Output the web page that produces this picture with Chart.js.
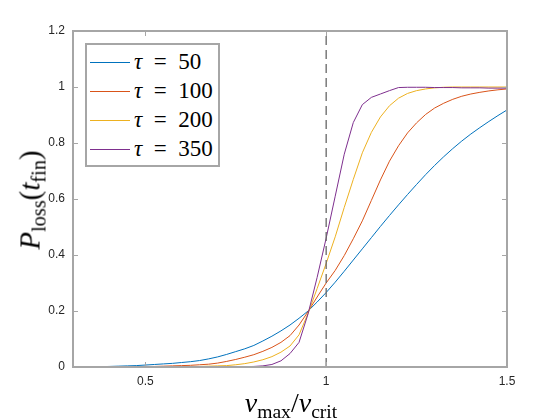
<!DOCTYPE html>
<html>
<head>
<meta charset="utf-8">
<script src="https://cdn.jsdelivr.net/npm/chart.js@4"></script>
<style>
body { margin: 0; background: #fff; }
#box { position: relative; width: 560px; height: 420px; }
#chart { position: absolute; left: 0; top: 0; }
.math { position: absolute; font-family: 'Liberation Serif', 'DejaVu Serif', serif; color: #000; white-space: nowrap; line-height: 1; }
.math sub { font-size: 0.7em; vertical-align: -0.3em; line-height: 0; font-style: normal; }
#ytitle { left: 30px; top: 200px; font-size: 29px; transform: translate(-50%, -50%) rotate(-90deg); }
#xtitle { left: 291px; top: 403px; font-size: 28px; transform: translate(-50%, -50%); }
#legend { position: absolute; left: 85px; top: 43px; width: 131px; height: 120px; border: 2px solid #a6a6a6; background: #fff; }
.row { position: absolute; left: 3px; height: 28px; display: flex; align-items: center; font-family: 'Liberation Serif', 'DejaVu Serif', serif; font-size: 23px; white-space: nowrap; }
.row .ln { display: inline-block; width: 40px; height: 0; border-top: 1px solid; margin-right: 4px; }
</style>
</head>
<body>
<div id="box">
	<canvas id="chart" width="560" height="420"></canvas>
	<div id="legend"></div>
	<div id="ytitle" class="math"><i>P</i><sub>loss</sub>(<i>t</i><sub>fin</sub>)</div>
	<div id="xtitle" class="math"><i>v</i><sub>max</sub>/<i>v</i><sub>crit</sub></div>
</div>
<script>
/*
 */
const xValues = [
	0.3, 0.325, 0.35, 0.375, 0.4, 0.425, 0.45, 0.475,
	0.5, 0.525, 0.55, 0.575, 0.6, 0.625, 0.65, 0.675,
	0.7, 0.725, 0.75, 0.775, 0.8, 0.825, 0.85, 0.875,
	0.9, 0.925, 0.95, 0.975, 1.0, 1.025, 1.05, 1.075,
	1.1, 1.125, 1.15, 1.175, 1.2, 1.225, 1.25, 1.275,
	1.3, 1.325, 1.35, 1.375, 1.4, 1.425, 1.45, 1.475,
	1.5,
];

const tau50 = [
	0.000, 0.000, 0.001, 0.001, 0.002, 0.003, 0.004, 0.005,
	0.007, 0.009, 0.011, 0.013, 0.016, 0.019, 0.023, 0.029,
	0.036, 0.045, 0.055, 0.065, 0.077, 0.093, 0.110, 0.129,
	0.150, 0.174, 0.200, 0.232, 0.266, 0.303, 0.342, 0.382,
	0.422, 0.462, 0.502, 0.541, 0.579, 0.616, 0.652, 0.687,
	0.720, 0.751, 0.780, 0.807, 0.832, 0.855, 0.877, 0.898,
	0.918,
];

const tau100 = [
	0.000, 0.000, 0.000, 0.000, 0.001, 0.001, 0.001, 0.001,
	0.002, 0.002, 0.003, 0.004, 0.005, 0.006, 0.008, 0.010,
	0.014, 0.020, 0.027, 0.035, 0.044, 0.056, 0.070, 0.088,
	0.112, 0.150, 0.198, 0.250, 0.300, 0.345, 0.398, 0.458,
	0.522, 0.595, 0.668, 0.735, 0.790, 0.836, 0.872, 0.902,
	0.925, 0.942, 0.956, 0.967, 0.975, 0.981, 0.986, 0.990,
	0.993,
];

const tau200 = [
	0.000, 0.000, 0.000, 0.000, 0.000, 0.000, 0.000, 0.000,
	0.001, 0.001, 0.001, 0.001, 0.001, 0.002, 0.002, 0.003,
	0.004, 0.005, 0.008, 0.012, 0.018, 0.026, 0.037, 0.053,
	0.075, 0.115, 0.192, 0.280, 0.370, 0.465, 0.570, 0.670,
	0.765, 0.838, 0.893, 0.933, 0.960, 0.977, 0.987, 0.993,
	0.997, 0.999, 1.000, 1.000, 1.000, 1.000, 1.000, 1.000,
	1.000,
];

const tau350 = [
	0.000, 0.000, 0.000, 0.000, 0.000, 0.000, 0.000, 0.000,
	0.000, 0.000, 0.000, 0.000, 0.000, 0.000, 0.000, 0.000,
	0.000, 0.000, 0.000, 0.001, 0.002, 0.004, 0.009, 0.022,
	0.048, 0.088, 0.190, 0.320, 0.460, 0.610, 0.760, 0.873,
	0.937, 0.963, 0.975, 0.987, 0.998, 0.999, 0.999, 0.999,
	0.998, 0.998, 0.998, 0.997, 0.997, 0.997, 0.996, 0.996,
	0.996,
];

const tauLabels = ['50', '100', '200', '350'];
const seriesColors = ['#0072BD', '#D95319', '#EDB120', '#7E2F8E'];

/* The critical ratio, drawn as a dashed vertical line. */
const critX = [1, 1];
const critY = [0, 1.2];

const xTicks = [0.5, 1, 1.5];
const yTicks = [0, 0.2, 0.4, 0.6, 0.8, 1, 1.2];

const axisGray = '#a6a6a6';

/**
 * MATLAB-style box: full frame with short ticks pointing inward on
 * all four sides.
 */
const boxPlugin = {
	id: 'box',
	afterDatasetsDraw(chart) {
		const { ctx, chartArea: a, scales: { x, y } } = chart;
		ctx.save();
		ctx.strokeStyle = axisGray;
		ctx.lineWidth = 2;
		ctx.strokeRect(a.left, a.top, a.right - a.left, a.bottom - a.top);
		ctx.lineWidth = 1;
		ctx.beginPath();
		for (const v of xTicks) {
			const px = Math.round(x.getPixelForValue(v)) + 0.5;
			ctx.moveTo(px, a.bottom);
			ctx.lineTo(px, a.bottom - 5);
			ctx.moveTo(px, a.top);
			ctx.lineTo(px, a.top + 5);
		}
		for (const v of yTicks) {
			const py = Math.round(y.getPixelForValue(v)) + 0.5;
			ctx.moveTo(a.left, py);
			ctx.lineTo(a.left + 5, py);
			ctx.moveTo(a.right, py);
			ctx.lineTo(a.right - 5, py);
		}
		ctx.stroke();
		ctx.restore();
	},
};

function series(values)
{
	return xValues.map((x, i) => ({ x: x, y: values[i] }));
}

const allSeries = [tau50, tau100, tau200, tau350];
const datasets = allSeries.map((vals, i) => ({
	label: '\u03c4 = ' + tauLabels[i],
	data: series(vals),
	borderColor: seriesColors[i],
	borderWidth: 1,
	pointRadius: 0,
	tension: 0,
	order: 4 - i,
}));

datasets.push({
	label: 'crit',
	data: critX.map((x, i) => ({ x: x, y: critY[i] })),
	borderColor: '#666666',
	borderWidth: 1.3,
	borderDash: [9, 5],
	pointRadius: 0,
	order: 0,
});

const tickFont = { family: "'Liberation Sans', Arial, sans-serif", size: 12 };

new Chart(document.getElementById('chart'), {
	type: 'line',
	data: { datasets: datasets },
	options: {
		responsive: false,
		animation: false,
		layout: { padding: { left: 33, right: 53, top: 31, bottom: 23 } },
		plugins: {
			legend: { display: false },
			tooltip: { enabled: false },
		},
		scales: {
			x: {
				type: 'linear',
				min: 0.3,
				max: 1.5,
				afterBuildTicks: (s) => { s.ticks = xTicks.map(v => ({ value: v })); },
				afterFit: (s) => { s.height = 30; },
				grid: { display: false, drawTicks: false },
				border: { display: false },
				ticks: {
					padding: 7,
					color: '#262626',
					font: tickFont,
					maxRotation: 0,
					callback: (v) => String(v),
				},
			},
			y: {
				min: 0,
				max: 1.2,
				afterBuildTicks: (s) => { s.ticks = yTicks.map(v => ({ value: v })); },
				afterFit: (s) => { s.width = 40; },
				grid: { display: false, drawTicks: false },
				border: { display: false },
				ticks: {
					padding: 8,
					color: '#262626',
					font: tickFont,
					callback: (v) => String(Number(v.toFixed(1))),
				},
			},
		},
	},
	plugins: [boxPlugin],
});

/* Legend box, built from the series labels. */

const legend = document.getElementById('legend');
const rowTops = [3, 32, 61, 90];
tauLabels.forEach((lab, i) => {
	const row = document.createElement('div');
	row.className = 'row';
	row.style.top = rowTops[i] + 'px';
	const ln = document.createElement('span');
	ln.className = 'ln';
	ln.style.borderTopColor = seriesColors[i];
	row.append(ln);
	const tau = document.createElement('i');
	tau.textContent = '\u03c4';
	row.append(tau);
	row.append(document.createTextNode('\u2002=\u2002' + lab));
	legend.append(row);
});
</script>
</body>
</html>
